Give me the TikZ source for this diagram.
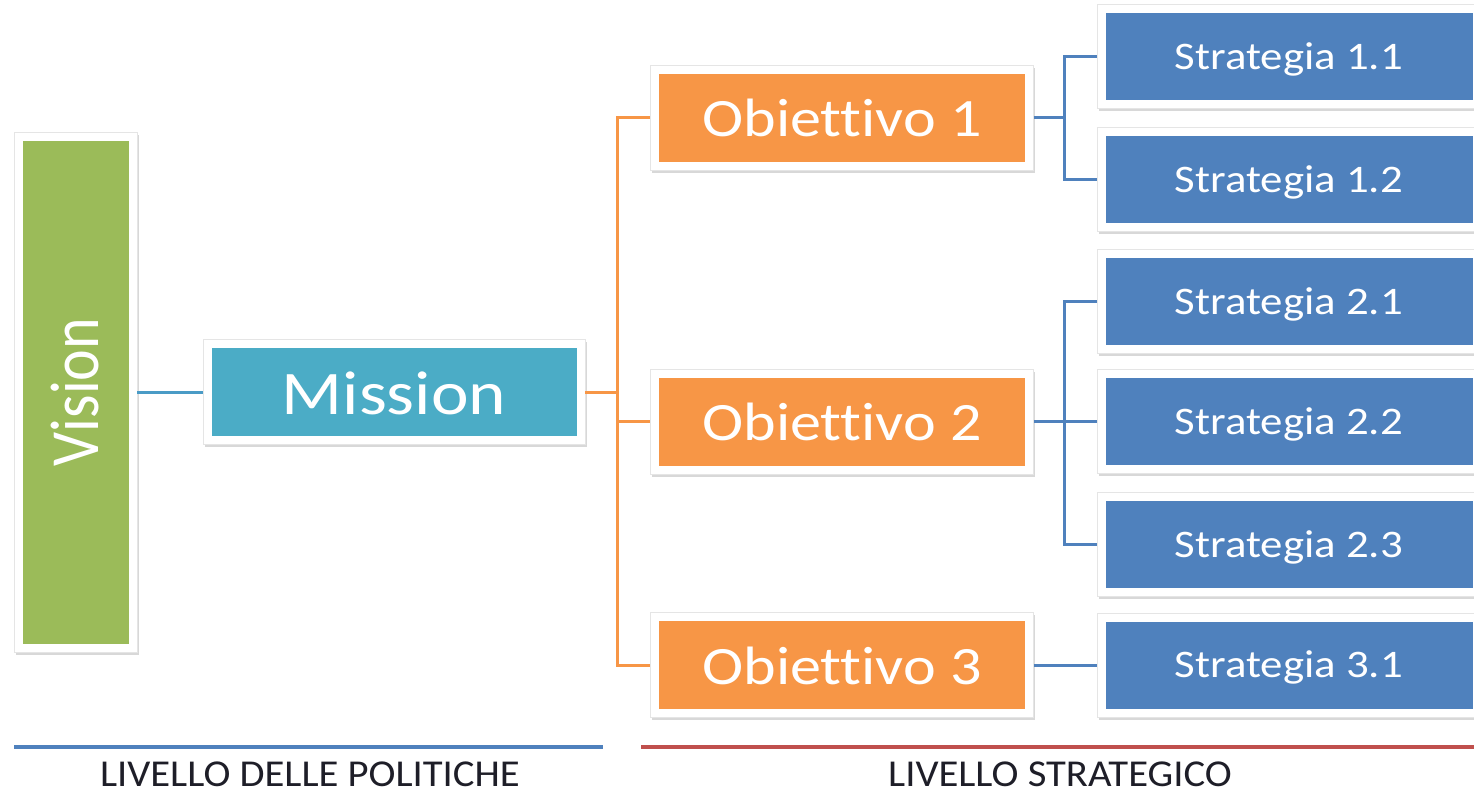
\documentclass[tikz,border=0pt]{standalone}
\usepackage{fontspec}
\setmainfont{Carlito}[FakeStretch=1.15, Ligatures=NoCommon]
\newfontfamily\uprightfont{Carlito}[Ligatures=NoCommon]
\newfontfamily\captionfont{Carlito}[FakeStretch=1.07, Ligatures=NoCommon]
\usetikzlibrary{shadows}

\definecolor{visiongreen}{HTML}{9BBB59}
\definecolor{missionteal}{HTML}{4BACC6}
\definecolor{goalorange}{HTML}{F79646}
\definecolor{stratblue}{HTML}{4F81BD}
\definecolor{linkteal}{HTML}{4A9BC6}
\definecolor{levelred}{HTML}{C0504D}
\definecolor{labelink}{HTML}{1E1E28}

\tikzset{
  % white card with a soft shadow and a coloured panel inset by 8.5pt
  framed/.style={rectangle, inner sep=0pt, fill=white, draw=black!10, line width=0.8pt,
    drop shadow={shadow xshift=1.5pt, shadow yshift=-2.5pt, opacity=0.3, fill=black!50},
    text=white,
    path picture={\fill[#1]
      ([shift={(8.5pt,8.5pt)}]path picture bounding box.south west) rectangle
      ([shift={(-8.5pt,-8.5pt)}]path picture bounding box.north east);}},
  missionbox/.style={framed=missionteal, minimum width=382pt, minimum height=105pt,
    font=\fontsize{62}{62}\selectfont, text height=44pt, text depth=0pt},
  goalbox/.style={framed=goalorange, minimum width=383pt, minimum height=105pt,
    font=\fontsize{54}{54}\selectfont, text height=38pt, text depth=0pt},
  stratbox/.style={framed=stratblue, minimum width=384pt, minimum height=104pt,
    font=\fontsize{39}{39}\selectfont, text height=25pt, text depth=0pt},
  goallink/.style={draw=goalorange, line width=3pt},
  stratlink/.style={draw=stratblue, line width=3pt},
  levellabel/.style={text=labelink, font=\captionfont\fontsize{38}{38}\selectfont,
    text height=24pt, text depth=0pt, inner sep=0pt},
}

\begin{document}
\begin{tikzpicture}[x=1pt,y=-1pt]
\useasboundingbox (0,0) rectangle (1474,793);
\clip (0,0) rectangle (1474,793);
\fill[white] (0,0) rectangle (1474,793);

% vision and mission
\node[framed=visiongreen, minimum width=123pt, minimum height=520pt] (vision) at (75.5,392)
  {\rotatebox{90}{\scalebox{1}[1.15]{\uprightfont\fontsize{60}{60}\selectfont Vision}}};
\node[missionbox] (mission) at (394,392) {Mission};

% objectives
\node[goalbox] (o1) at (842,117.5) {Obiettivo 1};
\node[goalbox] (o2) at (842,421.5) {Obiettivo 2};
\node[goalbox] (o3) at (842,665) {Obiettivo 3};

% strategies
\node[stratbox] (s11) at (1289,56.5)  {Strategia 1.1};
\node[stratbox] (s12) at (1289,179.5) {Strategia 1.2};
\node[stratbox] (s21) at (1289,301.5) {Strategia 2.1};
\node[stratbox] (s22) at (1289,421.5) {Strategia 2.2};
\node[stratbox] (s23) at (1289,544.5) {Strategia 2.3};
\node[stratbox] (s31) at (1289,665)   {Strategia 3.1};

% connectors
\draw[draw=linkteal, line width=3pt] (vision.east) -- (mission.west);

\coordinate (mbus) at (617,392);
\draw[goallink] (mission.east) -- (mbus) |- (o1.west);
\draw[goallink] (mbus) |- (o2.west);
\draw[goallink] (mbus) |- (o3.west);

\coordinate (bus1) at (1064,117.5);
\draw[stratlink] (o1.east) -- (bus1) |- (s11.west);
\draw[stratlink] (bus1) |- (s12.west);

\coordinate (bus2) at (1064,421.5);
\draw[stratlink] (o2.east) -- (bus2) |- (s21.west);
\draw[stratlink] (bus2) -- (s22.west);
\draw[stratlink] (bus2) |- (s23.west);

\draw[stratlink] (o3.east) -- (s31.west);

% level rulers and captions
\coordinate (polstart) at (14,747);
\coordinate (polend) at (603,747);
\coordinate (strstart) at (641,747);
\coordinate (strend) at (1480,747);
\draw[draw=stratblue, line width=4pt] (polstart) -- (polend);
\draw[draw=levelred, line width=4pt] (strstart) -- (strend);

\node[levellabel] (politiche) at (310,774) {LIVELLO DELLE POLITICHE};
\node[levellabel] (strategico) at (1060,774) {LIVELLO STRATEGICO};
\end{tikzpicture}
\end{document}
